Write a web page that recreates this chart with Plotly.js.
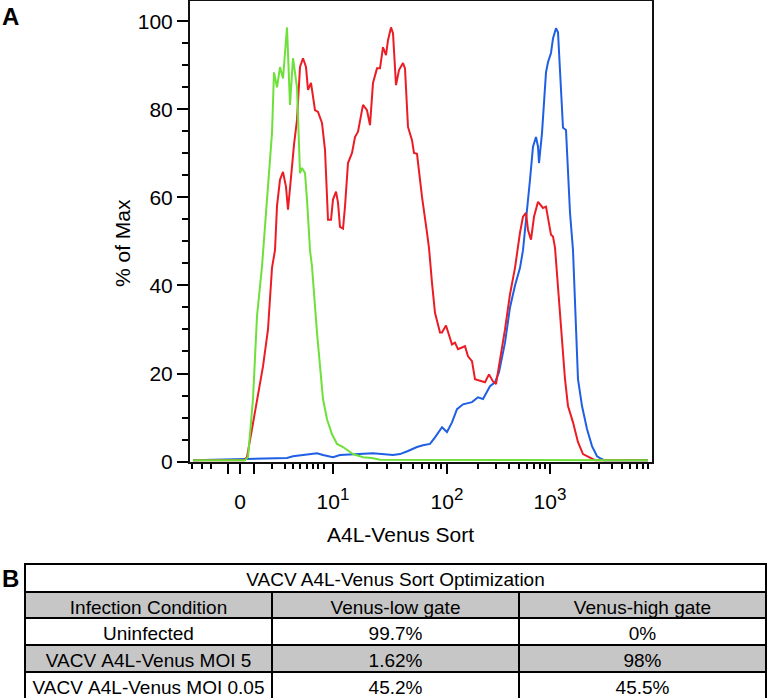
<!DOCTYPE html>
<html>
<head>
<meta charset="utf-8">
<script src="https://cdn.plot.ly/plotly-3.0.1.min.js"></script>
<style>html,body{margin:0;padding:0;background:#fff}#chart{width:768px;height:700px}</style>
</head>
<body>
<div id="chart"></div>
<script>
// x values are display channels of the biexponential (FlowJo-style) A4L-Venus axis
const greenX = [3,55,58,63,67,72,77,82,84,87,
  90,93,97,100,103,107,110,112,115,117,
  120,122,127,133,137,142,147,153,163,173,
  182,190,458];
const greenY = [0.3,0.3,1.0,14.2,33,44.3,59.5,74.6,88.4,85,
  89.6,87,98.6,81,91.6,85,65.5,66.7,65.5,59.5,
  48,44.3,29.3,14.2,9.6,6.2,4.0,3.3,1.7,1.0,
  0.8,0.4,0.3];

const redX = [3,54,57,67,73,78,82,85,87,90,
  93,96,98,102,104,107,110,113,116,118,
  121,125,128,132,135,138,141,143,146,148,
  150,153,155,158,162,165,168,173,177,180,
  183,187,190,193,196,198,201,203,206,209,
  213,215,218,222,224,227,232,237,239,242,
  245,250,252,256,258,262,265,268,272,275,
  278,282,285,292,295,299,303,306,309,315,
  320,325,330,333,336,338,341,344,348,351,
  353,356,358,361,363,365,375,378,383,388,
  393,399,405,458];
const redY = [0.3,0.3,1.0,14,21.6,30,44,48,58,64,
  65.8,62.4,57.2,67,72,77.6,89.6,91.6,89.6,84.4,
  86,79.8,79.4,76.9,70.8,54.9,54.9,59.5,61.3,58.8,
  53.3,52.9,57.9,67.8,70.1,73.7,74.9,81,79.8,76.4,
  86,89.3,89.3,94.1,92.3,95.7,98.6,97.3,85.5,88.9,
  90.5,89.3,76,73,70.1,69.9,60.1,52,48.5,40.6,
  33.8,29.3,29.3,30.9,29.3,26.6,27,25.5,25.9,26.2,
  23.9,22.8,18.7,18.2,18.0,19.8,18.2,17.6,21.6,30,
  38,44,52,55.6,56.5,52.6,50.4,55.6,59,58.3,
  57.6,57.9,54.9,51.5,51.1,48.6,18.7,12.6,8.9,4.4,
  1.7,1.0,0.3,0.3];

const blueX = [3,57,97,103,113,127,133,143,150,170,
  183,203,210,218,227,233,240,245,252,257,
  262,267,273,282,288,293,300,305,309,315,
  320,325,330,333,337,340,343,346,348,349,
  352,354,356,358,361,363,366,368,370,372,
  373,376,378,380,383,388,392,397,402,407,
  410,414,458];
const blueY = [0.3,0.5,0.8,1.2,1.5,1.9,1.5,1.0,1.5,1.7,
  1.9,1.5,1.7,2.4,3.3,3.7,4.0,5.5,7.8,6.7,
  8.9,11.9,13,13.5,14.6,14.2,17.1,18,20.3,27,
  35,40,44,48,56.5,64,71.5,73.7,71.5,67.8,
  74.6,82.1,88.4,90.7,92.8,96.1,98.4,97.5,89.6,79.1,
  75.8,75.3,64.7,56.5,48,18.7,12.6,7.4,3.5,1.2,
  0.8,0.3,0.3];

// axis ticks (channel positions of 0, 10^1, 10^2, 10^3 plus unlabeled long ticks)
const xTickPos = [38, 50, 64, 143, 257, 360];
const xTickText = ['', '0', '', '10<sup><span style="font-size:17px">1</span></sup>',
  '10<sup><span style="font-size:17px">2</span></sup>', '10<sup><span style="font-size:17px">3</span></sup>'];
const xMinorPos = [2,12,21,82,95,103,110,117,123,128,134,177,197,211,223,232,239,246,251,
  288,306,319,329,337,344,350,355,391,409,422,432,440,447,453,458];
const yTickVals = [0,20,40,60,80,100];

// table B
const tableTitle = 'VACV A4L-Venus Sort Optimization';
const tableHeaders = ['Infection Condition', 'Venus-low gate', 'Venus-high gate'];
const conditions = ['Uninfected', 'VACV A4L-Venus MOI 5', 'VACV A4L-Venus MOI 0.05'];
const lowGate = ['99.7%', '1.62%', '45.2%'];
const highGate = ['0%', '98%', '45.5%'];

const FONT = 'Liberation Sans, Arial, Helvetica, sans-serif';
const W = 768, H = 700;
const GRAY = '#c6c6c6';
const TFONT = {family:FONT, size:19, color:'#000'};
// keep each cell on one line (the table trace would otherwise word-wrap near the column edge)
const noWrap = arr => arr.map(s => s.replace(/ /g, '\u00a0'));

function line(x, y, color) {
  return {type:'scatter', mode:'lines', x:x, y:y, line:{color:color, width:2, shape:'linear'},
    hoverinfo:'skip', showlegend:false, xaxis:'x', yaxis:'y'};
}
const rowFill = ['#ffffff', GRAY, '#ffffff'];

const data = [
  line(blueX, blueY, '#1f5fe4'),
  line(redX, redY, '#ec1c24'),
  line(greenX, greenY, '#6ee03a'),
  {type:'table', domain:{x:[25/W, 766/W], y:[1-592/H, 1-564/H]},
    columnwidth:[1],
    header:{values:[tableTitle], height:28, align:'center', fill:{color:'#ffffff'},
      line:{color:'#000', width:2}, font:TFONT},
    cells:{values:[[]]}},
  {type:'table', domain:{x:[25/W, 766/W], y:[1-699/H, 1-592/H]},
    columnwidth:[1,1,1],
    header:{values:noWrap(tableHeaders), height:26, align:'center', fill:{color:GRAY},
      line:{color:'#000', width:2}, font:TFONT},
    cells:{values:[noWrap(conditions), lowGate, highGate], height:27, align:'center',
      fill:{color:[rowFill, rowFill, rowFill]},
      line:{color:'#000', width:2}, font:TFONT}}
];

const layout = {
  width:W, height:H, margin:{l:0, r:0, t:0, b:0},
  paper_bgcolor:'#ffffff', plot_bgcolor:'#ffffff', showlegend:false,
  font:{family:FONT, color:'#000'},
  xaxis:{domain:[190/W, 652/W], range:[0, 462], automargin:false, fixedrange:true,
    tickmode:'array', tickvals:xTickPos, ticktext:xTickText,
    ticks:'outside', ticklen:10, tickwidth:2, tickcolor:'#000', ticklabelstandoff:10,
    tickfont:{family:FONT, size:21, color:'#000'},
    showline:true, linecolor:'#111', linewidth:2, mirror:true,
    showgrid:false, zeroline:false,
    minor:{tickmode:'array', tickvals:xMinorPos, ticks:'outside', ticklen:5, tickwidth:2, tickcolor:'#000', showgrid:false}},
  yaxis:{domain:[1-462/H, 1-1/H], range:[-0.1, 104.6], automargin:false, fixedrange:true,
    tickmode:'array', tickvals:yTickVals,
    ticks:'outside', ticklen:11, tickwidth:2, tickcolor:'#000',
    tickfont:{family:FONT, size:21, color:'#000'},
    showline:true, linecolor:'#111', linewidth:2, mirror:true,
    showgrid:false, zeroline:false,
    minor:{dtick:5, ticks:'outside', ticklen:6, tickwidth:2, tickcolor:'#000', showgrid:false}},
  annotations:[
    {text:'<b>A</b>', xref:'paper', yref:'paper', x:10/W, y:1-16/H, showarrow:false,
      xanchor:'center', yanchor:'middle', font:{family:FONT, size:24, color:'#000'}},
    {text:'<b>B</b>', xref:'paper', yref:'paper', x:10/W, y:1-578/H, showarrow:false,
      xanchor:'center', yanchor:'middle', font:{family:FONT, size:24, color:'#000'}},
    {text:'% of Max', xref:'paper', yref:'paper', x:122/W, y:1-243/H, showarrow:false,
      textangle:-90, xanchor:'center', yanchor:'middle', font:{family:FONT, size:21, color:'#000'}},
    {text:'A4L-Venus Sort', xref:'paper', yref:'paper', x:400/W, y:1-534/H, showarrow:false,
      xanchor:'center', yanchor:'middle', font:{family:FONT, size:21, color:'#000'}}
  ]
};

Plotly.newPlot('chart', data, layout, {staticPlot:true, displayModeBar:false});
</script>
</body>
</html>
